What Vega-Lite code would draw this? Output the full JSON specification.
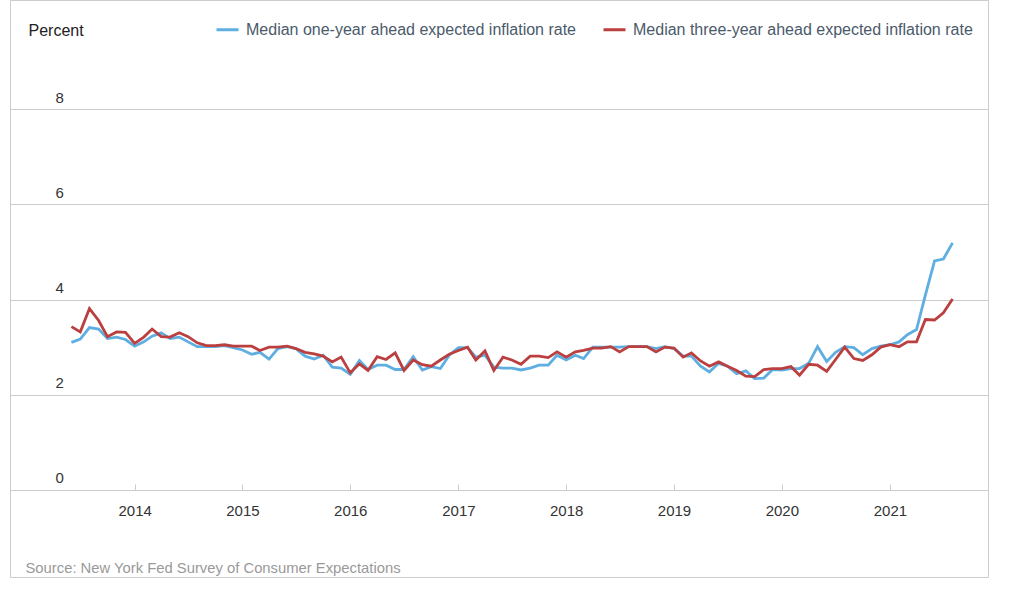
{
  "$schema": "https://vega.github.io/schema/vega-lite/v6.json",
  "autosize": {"type": "none"},
  "padding": {"left": 10, "top": 0, "right": 34, "bottom": 19},
  "width": 978,
  "height": 577,
  "background": "white",
  "config": {
    "font": "Liberation Sans",
    "view": {"stroke": "#cccccc", "strokeWidth": 1}
  },
  "data": {
    "values": [
      {"d": "2013-06-01", "one": 3.10, "three": 3.43},
      {"d": "2013-07-01", "one": 3.17, "three": 3.32},
      {"d": "2013-08-01", "one": 3.41, "three": 3.81},
      {"d": "2013-09-01", "one": 3.38, "three": 3.56},
      {"d": "2013-10-01", "one": 3.18, "three": 3.22},
      {"d": "2013-11-01", "one": 3.21, "three": 3.32},
      {"d": "2013-12-01", "one": 3.16, "three": 3.31},
      {"d": "2014-01-01", "one": 3.02, "three": 3.08},
      {"d": "2014-02-01", "one": 3.11, "three": 3.21},
      {"d": "2014-03-01", "one": 3.23, "three": 3.38},
      {"d": "2014-04-01", "one": 3.30, "three": 3.22},
      {"d": "2014-05-01", "one": 3.18, "three": 3.21},
      {"d": "2014-06-01", "one": 3.21, "three": 3.30},
      {"d": "2014-07-01", "one": 3.11, "three": 3.22},
      {"d": "2014-08-01", "one": 3.01, "three": 3.09},
      {"d": "2014-09-01", "one": 3.01, "three": 3.03},
      {"d": "2014-10-01", "one": 3.01, "three": 3.03},
      {"d": "2014-11-01", "one": 3.03, "three": 3.05},
      {"d": "2014-12-01", "one": 2.99, "three": 3.02},
      {"d": "2015-01-01", "one": 2.94, "three": 3.02},
      {"d": "2015-02-01", "one": 2.85, "three": 3.02},
      {"d": "2015-03-01", "one": 2.89, "three": 2.93},
      {"d": "2015-04-01", "one": 2.75, "three": 3.00},
      {"d": "2015-05-01", "one": 2.97, "three": 3.00},
      {"d": "2015-06-01", "one": 3.01, "three": 3.02},
      {"d": "2015-07-01", "one": 2.97, "three": 2.97},
      {"d": "2015-08-01", "one": 2.81, "three": 2.89},
      {"d": "2015-09-01", "one": 2.75, "three": 2.86},
      {"d": "2015-10-01", "one": 2.83, "three": 2.81},
      {"d": "2015-11-01", "one": 2.58, "three": 2.69},
      {"d": "2015-12-01", "one": 2.56, "three": 2.79},
      {"d": "2016-01-01", "one": 2.43, "three": 2.46},
      {"d": "2016-02-01", "one": 2.72, "three": 2.65},
      {"d": "2016-03-01", "one": 2.53, "three": 2.51},
      {"d": "2016-04-01", "one": 2.62, "three": 2.80},
      {"d": "2016-05-01", "one": 2.62, "three": 2.74},
      {"d": "2016-06-01", "one": 2.53, "three": 2.88},
      {"d": "2016-07-01", "one": 2.53, "three": 2.51},
      {"d": "2016-08-01", "one": 2.80, "three": 2.73},
      {"d": "2016-09-01", "one": 2.52, "three": 2.63},
      {"d": "2016-10-01", "one": 2.59, "three": 2.60},
      {"d": "2016-11-01", "one": 2.55, "three": 2.73},
      {"d": "2016-12-01", "one": 2.83, "three": 2.85},
      {"d": "2017-01-01", "one": 2.99, "three": 2.93},
      {"d": "2017-02-01", "one": 2.99, "three": 3.00},
      {"d": "2017-03-01", "one": 2.79, "three": 2.73},
      {"d": "2017-04-01", "one": 2.83, "three": 2.92},
      {"d": "2017-05-01", "one": 2.58, "three": 2.51},
      {"d": "2017-06-01", "one": 2.56, "three": 2.79},
      {"d": "2017-07-01", "one": 2.56, "three": 2.73},
      {"d": "2017-08-01", "one": 2.52, "three": 2.64},
      {"d": "2017-09-01", "one": 2.56, "three": 2.81},
      {"d": "2017-10-01", "one": 2.62, "three": 2.81},
      {"d": "2017-11-01", "one": 2.62, "three": 2.78},
      {"d": "2017-12-01", "one": 2.83, "three": 2.90},
      {"d": "2018-01-01", "one": 2.73, "three": 2.79},
      {"d": "2018-02-01", "one": 2.83, "three": 2.90},
      {"d": "2018-03-01", "one": 2.76, "three": 2.93},
      {"d": "2018-04-01", "one": 3.00, "three": 2.98},
      {"d": "2018-05-01", "one": 3.00, "three": 2.98},
      {"d": "2018-06-01", "one": 3.00, "three": 3.01},
      {"d": "2018-07-01", "one": 3.00, "three": 2.90},
      {"d": "2018-08-01", "one": 3.01, "three": 3.01},
      {"d": "2018-09-01", "one": 3.01, "three": 3.01},
      {"d": "2018-10-01", "one": 3.01, "three": 3.01},
      {"d": "2018-11-01", "one": 2.97, "three": 2.90},
      {"d": "2018-12-01", "one": 3.01, "three": 3.00},
      {"d": "2019-01-01", "one": 2.97, "three": 2.98},
      {"d": "2019-02-01", "one": 2.81, "three": 2.79},
      {"d": "2019-03-01", "one": 2.81, "three": 2.88},
      {"d": "2019-04-01", "one": 2.60, "three": 2.71},
      {"d": "2019-05-01", "one": 2.48, "three": 2.60},
      {"d": "2019-06-01", "one": 2.66, "three": 2.69},
      {"d": "2019-07-01", "one": 2.60, "three": 2.60},
      {"d": "2019-08-01", "one": 2.44, "three": 2.51},
      {"d": "2019-09-01", "one": 2.50, "three": 2.39},
      {"d": "2019-10-01", "one": 2.34, "three": 2.38},
      {"d": "2019-11-01", "one": 2.35, "three": 2.53},
      {"d": "2019-12-01", "one": 2.53, "three": 2.55},
      {"d": "2020-01-01", "one": 2.52, "three": 2.55},
      {"d": "2020-02-01", "one": 2.55, "three": 2.59},
      {"d": "2020-03-01", "one": 2.55, "three": 2.41},
      {"d": "2020-04-01", "one": 2.66, "three": 2.64},
      {"d": "2020-05-01", "one": 3.01, "three": 2.62},
      {"d": "2020-06-01", "one": 2.70, "three": 2.49},
      {"d": "2020-07-01", "one": 2.89, "three": 2.74},
      {"d": "2020-08-01", "one": 3.01, "three": 3.00},
      {"d": "2020-09-01", "one": 2.99, "three": 2.76},
      {"d": "2020-10-01", "one": 2.84, "three": 2.72},
      {"d": "2020-11-01", "one": 2.97, "three": 2.84},
      {"d": "2020-12-01", "one": 3.02, "three": 3.00},
      {"d": "2021-01-01", "one": 3.05, "three": 3.05},
      {"d": "2021-02-01", "one": 3.11, "three": 3.01},
      {"d": "2021-03-01", "one": 3.26, "three": 3.11},
      {"d": "2021-04-01", "one": 3.37, "three": 3.11},
      {"d": "2021-05-01", "one": 4.09, "three": 3.58},
      {"d": "2021-06-01", "one": 4.81, "three": 3.57},
      {"d": "2021-07-01", "one": 4.85, "three": 3.72},
      {"d": "2021-08-01", "one": 5.19, "three": 4.01}
    ]
  },
  "transform": [
    {"fold": ["one", "three"], "as": ["series", "value"]}
  ],
  "mark": {"type": "line", "strokeWidth": 2.8, "interpolate": "linear"},
  "encoding": {
    "x": {
      "field": "d",
      "type": "temporal",
      "scale": {
        "type": "utc",
        "domain": [
          {"year": 2012, "month": 11, "date": 5, "utc": true},
          {"year": 2021, "month": 11, "date": 29, "utc": true}
        ],
        "nice": false
      },
      "axis": {
        "title": "Source: New York Fed Survey of Consumer Expectations",
        "titleX": 15,
        "titleY": 82,
        "titleAlign": "left",
        "titleBaseline": "alphabetic",
        "titleFontSize": 14.8,
        "titleFontWeight": "normal",
        "titleColor": "#999999",
        "offset": -87,
        "domainColor": "#cccccc",
        "domainWidth": 1,
        "tickColor": "#cccccc",
        "tickSize": -6,
        "tickWidth": 1,
        "labelPadding": 19,
        "labelFontSize": 15,
        "labelColor": "#333333",
        "labelBaseline": "top",
        "format": "%Y",
        "formatType": "utc",
        "grid": false,
        "values": [
          {"year": 2014, "month": 1, "date": 1, "utc": true},
          {"year": 2015, "month": 1, "date": 1, "utc": true},
          {"year": 2016, "month": 1, "date": 1, "utc": true},
          {"year": 2017, "month": 1, "date": 1, "utc": true},
          {"year": 2018, "month": 1, "date": 1, "utc": true},
          {"year": 2019, "month": 1, "date": 1, "utc": true},
          {"year": 2020, "month": 1, "date": 1, "utc": true},
          {"year": 2021, "month": 1, "date": 1, "utc": true}
        ]
      }
    },
    "y": {
      "field": "value",
      "type": "quantitative",
      "scale": {"domain": [-1.827, 10.289], "nice": false, "zero": false},
      "axis": {
        "title": "Percent",
        "titleAngle": 0,
        "titleX": 18,
        "titleY": 35,
        "titleAlign": "left",
        "titleBaseline": "alphabetic",
        "titleFontSize": 16,
        "titleFontWeight": "normal",
        "titleColor": "#222222",
        "values": [0, 2, 4, 6, 8],
        "grid": true,
        "gridColor": "#cccccc",
        "gridWidth": 1,
        "domain": false,
        "ticks": false,
        "tickSize": 0,
        "labelAlign": "left",
        "labelPadding": -45,
        "labelBaseline": "alphabetic",
        "labelOffset": -7,
        "labelFontSize": 15,
        "labelColor": "#333333"
      }
    },
    "color": {
      "field": "series",
      "type": "nominal",
      "scale": {"domain": ["one", "three"], "range": ["#5eaee2", "#bb3f3f"]},
      "legend": {
        "orient": "none",
        "legendX": 205,
        "legendY": 17,
        "direction": "horizontal",
        "title": null,
        "padding": 0,
        "symbolType": "stroke",
        "symbolStrokeWidth": 3,
        "symbolSize": 484,
        "labelFontSize": 16,
        "labelColor": "#4b5a6b",
        "labelOffset": 6,
        "labelLimit": 600,
        "columnPadding": 21,
        "labelExpr": "datum.label == 'one' ? 'Median one-year ahead expected inflation rate' : 'Median three-year ahead expected inflation rate'"
      }
    }
  }
}
